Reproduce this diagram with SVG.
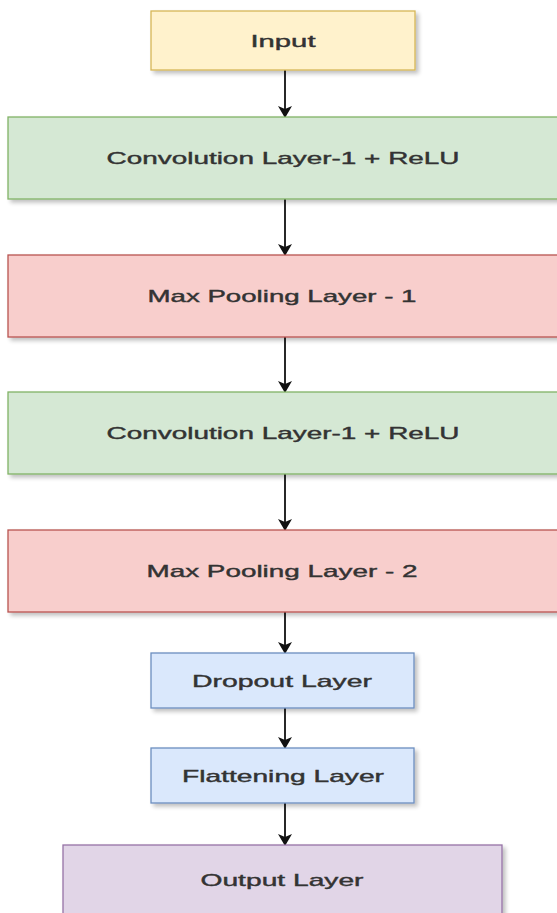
<svg xmlns="http://www.w3.org/2000/svg" width="557" height="913" viewBox="0 0 557 913">
<defs>
<filter id="sh" x="-5%" y="-10%" width="115%" height="130%">
<feGaussianBlur in="SourceAlpha" stdDeviation="2"/>
<feOffset dx="3" dy="3" result="b"/>
<feComponentTransfer><feFuncA type="linear" slope="0.25"/></feComponentTransfer>
<feMerge><feMergeNode/><feMergeNode in="SourceGraphic"/></feMerge>
</filter>
<marker id="ah" markerWidth="12" markerHeight="14" refX="11" refY="7" orient="auto" markerUnits="userSpaceOnUse">
<path d="M0,0 L12,7 L0,14 L3,7 Z" fill="#111"/>
</marker>
</defs>
<style>
.n rect{stroke-width:1.3;filter:url(#sh)}
.y rect{fill:#fff2cc;stroke:#d6b656}
.g rect{fill:#d5e8d4;stroke:#82b366}
.r rect{fill:#f8cecc;stroke:#b85450}
.b rect{fill:#dae8fc;stroke:#6c8ebf}
.p rect{fill:#e1d5e7;stroke:#9673a6}
text{font-family:"Liberation Sans",Arial,sans-serif;font-size:17px;fill:#333;text-anchor:middle;dominant-baseline:central;stroke:#333;stroke-width:0.4}
.e line{stroke:#111;stroke-width:1.8;marker-end:url(#ah)}
</style>
<g class="e" id="connectors">
<line x1="285" y1="70" x2="285" y2="117"/>
<line x1="285" y1="199" x2="285" y2="255"/>
<line x1="285" y1="337" x2="285" y2="392"/>
<line x1="285" y1="474" x2="285" y2="530"/>
<line x1="285" y1="612" x2="285" y2="653"/>
<line x1="285" y1="708" x2="285" y2="748"/>
<line x1="285" y1="803" x2="285" y2="845"/>
</g>
<g id="input" class="n y"><rect x="151" y="11" width="264" height="59"/><text x="283" y="41" textLength="65" lengthAdjust="spacingAndGlyphs">Input</text></g>
<g id="conv1" class="n g"><rect x="8" y="117" width="560" height="82"/><text x="283" y="158" textLength="353" lengthAdjust="spacingAndGlyphs">Convolution Layer-1 + ReLU</text></g>
<g id="pool1" class="n r"><rect x="8" y="255" width="560" height="82"/><text x="282" y="296" textLength="269" lengthAdjust="spacingAndGlyphs">Max Pooling Layer - 1</text></g>
<g id="conv2" class="n g"><rect x="8" y="392" width="560" height="82"/><text x="283" y="433" textLength="353" lengthAdjust="spacingAndGlyphs">Convolution Layer-1 + ReLU</text></g>
<g id="pool2" class="n r"><rect x="8" y="530" width="560" height="82"/><text x="282" y="571" textLength="271" lengthAdjust="spacingAndGlyphs">Max Pooling Layer - 2</text></g>
<g id="dropout" class="n b"><rect x="151" y="653" width="263" height="55"/><text x="282" y="681" textLength="180" lengthAdjust="spacingAndGlyphs">Dropout Layer</text></g>
<g id="flatten" class="n b"><rect x="151" y="748" width="263" height="55"/><text x="283" y="776" textLength="202" lengthAdjust="spacingAndGlyphs">Flattening Layer</text></g>
<g id="output" class="n p"><rect x="63" y="845" width="439" height="80"/><text x="282" y="880" textLength="163" lengthAdjust="spacingAndGlyphs">Output Layer</text></g>
</svg>
